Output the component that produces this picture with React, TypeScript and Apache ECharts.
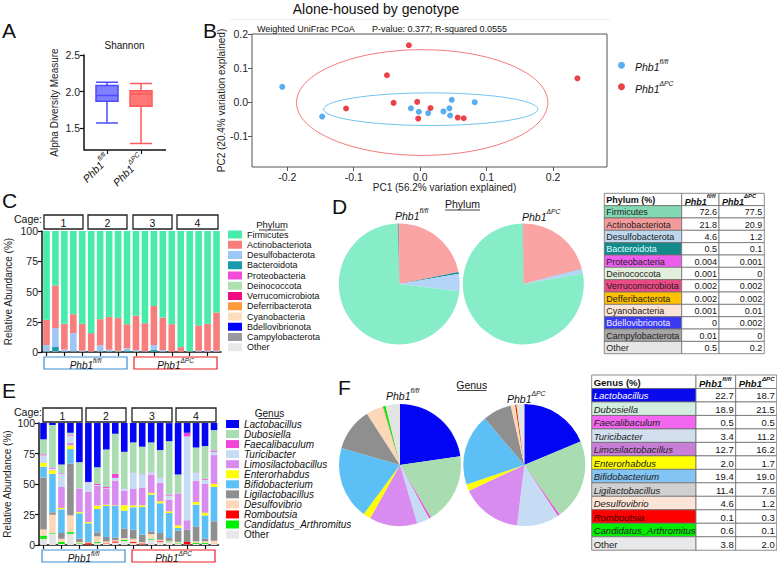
import React, { useEffect, useRef } from "react";
import * as echarts from "echarts";

const FONT = "'Liberation Sans', Arial, Helvetica, sans-serif";

// ---------- shared ----------
const genotypes = ["Phb1 fl/fl", "Phb1 ΔPC"];
const samples = ["1","2","3","4","5","6","7","8","9","10","11","12","13","14","15","16","17","18","19","20"];
const cages = ["1", "2", "3", "4"];

// ---------- A: Shannon boxplot [min, Q1, median, Q3, max] ----------
const shannonFlfl = [1.571, 1.867, 1.945, 2.082, 2.127];
const shannonDpc = [1.288, 1.8, 1.968, 2.01, 2.11];
const shannonTicks = [1.5, 2.0, 2.5];

// ---------- B: PCoA ----------
const pcoaFlfl = [[-0.2075,0.045],[-0.1475,-0.042],[-0.014,-0.018],[-0.002,-0.028],[0.012,-0.032],[0.035,-0.027],[0.044,-0.018],[0.0475,0.007],[0.045,-0.039],[0.082,0.0]];
const pcoaDpc = [[-0.017,0.167],[-0.05,0.079],[0.2365,0.07],[-0.1115,-0.0185],[-0.04,-0.002],[-0.0045,0.001],[0.0155,-0.017],[-0.003,-0.048],[0.0565,-0.045],[0.0655,-0.047]];
// [cx, cy, rx, ry]
const ellipseFlfl = [0.0158, -0.0205, 0.161, 0.0478];
const ellipseDpc = [0.003, -0.001, 0.189, 0.155];
const pcoaXTicks = [-0.2, -0.1, 0, 0.1, 0.2];
const pcoaYTicks = [-0.1, 0, 0.1, 0.2];

// ---------- C: phylum per sample ----------
const phyla = ["Firmicutes","Actinobacteriota","Desulfobacterota","Bacteroidota","Proteobacteria","Deinococcota","Verrucomicrobiota","Deferribacterota","Cyanobacteria","Bdellovibrionota","Campylobacterota","Other"];
const cFirmicutes = [73.4,45,76.7,68.8,76.7,84.4,72.9,71,72,77,70,76.2,62,71.5,77,96,99.5,78,76.7,67.4];
const cActino = [20.8,35.3,21.3,15.6,22.3,15.1,21.6,27,27,20,28.5,23.3,32.2,27,22.7,3.8,0.4,21,22.3,31.6];
const cDesulfo = [5.0,15.6,1.5,14.8,0.6,0.2,4.9,1.5,0.5,1.7,1.1,0.2,4.0,1.1,0.0,0.1,0.0,0.7,0.7,0.6];
const cBactero = [0.3,3.6,0.2,0.4,0.1,0.1,0.3,0.2,0.2,1.0,0.2,0.1,1.5,0.2,0.1,0,0,0.1,0.1,0.1];
const cProteo = [0,0,0,0,0,0,0,0,0,0,0,0,0,0,0,0,0,0,0,0];
const cDeino = [0,0,0,0,0,0,0,0,0,0,0,0,0,0,0,0,0,0,0,0];
const cVerruco = [0,0,0,0,0,0,0,0,0,0,0,0,0,0,0,0,0,0,0,0];
const cDeferri = [0,0,0,0,0,0,0,0,0,0,0,0,0,0,0,0,0,0,0,0];
const cCyano = [0,0,0,0,0,0,0,0,0,0,0,0,0,0,0,0,0,0,0,0];
const cBdello = [0,0,0,0,0,0,0,0,0,0,0,0,0,0,0,0,0,0,0,0];
const cCampylo = [0,0,0,0,0,0,0,0,0,0,0,0,0,0,0,0,0,0,0,0];
const cOther = [0.5,0.5,0.3,0.4,0.3,0.2,0.3,0.3,0.3,0.3,0.2,0.2,0.3,0.2,0.2,0.1,0.1,0.2,0.2,0.3];
const phylumBars = [cFirmicutes,cActino,cDesulfo,cBactero,cProteo,cDeino,cVerruco,cDeferri,cCyano,cBdello,cCampylo,cOther];
const phylumBarColors = ["#47ECAA","#F87D7D","#9FC7F5","#1A9BAC","#F24CDA","#AEE0B0","#F20A82","#FF9A3C","#FDDDC0","#0000FF","#9A9A9E","#E8E8E8"];

// ---------- D: phylum means ----------
const phylumTableNames = ["Firmicutes","Actinobacteriota","Desulfobacterota","Bacteroidota","Proteobacteria","Deinococcota","Verrucomicrobiota","Defferibacterota","Cyanobacteria","Bdellovibrionota","Campylobacterota","Other"];
const phylumFlfl = [72.6, 21.8, 4.6, 0.5, 0.004, 0.001, 0.002, 0.002, 0.001, 0, 0.01, 0.5];
const phylumDpc = [77.5, 20.9, 1.2, 0.1, 0.001, 0, 0.002, 0.002, 0.01, 0.002, 0, 0.2];
const phylumPieOrder = [1, 3, 2, 0, 4, 5, 6, 7, 8, 9, 10, 11];
const phylumPieColors = ["#86EDC8","#F9A3A3","#B5D3F6","#138C94","#F583E8","#C5E8C5","#F5559F","#FFB366","#FDE6CF","#5555FF","#A0A0A0","#9C9C9C"];
const phylumCellColors = ["#82D8B2","#F59A9A","#BDD7EE","#138A8A","#EE5EEE","#E2EFDA","#EE4A85","#FFC000","#FCE4D6","#3A3AF5","#A6A6A6","#E7E6E6"];
const phylumCellText = ["#222","#222","#222","#DFFFFF","#222","#222","#222","#222","#222","#F0F0FF","#222","#222"];

// ---------- E: genus per sample ----------
const genera = ["Lactobacillus","Dubosiella","Faecalibaculum","Turicibacter","Limosilactobacillus","Enterorhabdus","Bifidobacterium","Ligilactobacillus","Desulfovibrio","Romboutsia","Candidatus_Arthromitus","Other"];
const eLacto = [13.4,1.6,34,8,32.6,48.5,36.7,22.2,8.8,23.8,16.2,19.7,16.2,22.5,14.8,42.7,8,20.3,18.9,5.8];
const eDubo = [12.3,35,6.8,1.4,21.4,0,13.7,30.8,32.9,30.1,24.7,22.3,24.1,22.5,43.8,15.3,0,20.5,26.8,16.7];
const eFaecal = [0.8,0.8,0.5,0.8,0.2,0.2,0.8,1,3.3,0.3,0.3,0.3,0.3,0.3,0.8,0.2,3,0.3,0.8,1.1];
const eTurici = [6.3,1,11,6,0.3,8,0.5,0.5,2.2,1.4,13.2,11,1.9,4.1,3.3,0.3,68.7,6.3,3.3,2.7];
const eLimo = [0,0.3,17.3,2.2,19,24.7,16.4,13,20.3,12,13.4,14.5,15.1,15.1,9.6,26,7.7,17.5,23.8,23.6];
const eEntero = [3,3,1,3,1,1,2.7,1,0.5,4.4,1.6,1.4,1.4,1.6,1.4,1.9,0,2.2,2.2,2.5];
const eBifido = [9,31.5,19.5,11.8,20.8,14.8,19.2,25.5,25.8,14.8,18.4,22.5,30.1,24.4,20.5,2.2,0,17.8,18.9,28.2];
const eLigi = [42.5,2,4.7,42.5,2.7,1,3.3,3.6,2.2,7.7,7.4,6.3,2.2,5.5,2.2,9.3,10.1,12.3,2.2,15.9];
const eDesulfo = [5,15,2.7,13.7,1,0.5,4.7,1.6,1,1.4,2.7,1,3.8,1.2,0.5,0.8,0,1.4,1.4,2.7];
const eRombo = [0,0,0,0,0,1.2,0,0.5,1,0,0.8,0.8,0,0.7,0,0,2,0,0,0];
const eCandid = [2.7,0.5,1.6,1.4,0.5,0,0.8,0,0,1,0,0,0.8,0,0.5,0.5,0,0.8,0.8,0];
const eOther = [5,9.3,0.8,9.2,1,0.3,1.6,0.8,2,3.3,1.6,0.5,4.4,2.4,2.5,1.3,0.5,0.8,0.9,0.8];
const genusBars = [eLacto,eDubo,eFaecal,eTurici,eLimo,eEntero,eBifido,eLigi,eDesulfo,eRombo,eCandid,eOther];
const genusColors = ["#0505F5","#A9DDB1","#F245D8","#C6DCF5","#D98CF0","#FFFF00","#5CC0F7","#8F8F8F","#FDD8B8","#FF0000","#00EE00","#E3E3E3"];

// ---------- F: genus means ----------
const genusFlfl = [22.7, 18.9, 0.5, 3.4, 12.7, 2.0, 19.4, 11.4, 4.6, 0.1, 0.6, 3.8];
const genusDpc = [18.7, 21.5, 0.5, 11.2, 16.2, 1.7, 19.0, 7.6, 1.2, 0.3, 0.1, 2.0];
const genusCellColors = ["#0A0AF0","#D2EEDF","#F266F0","#D3DEEE","#C97FD8","#FFFF00","#83C4F2","#D0D0D0","#FCE4D6","#FF0000","#00F000","#E8E8E8"];
const genusCellText = ["#FFFFFF","#222","#222","#222","#222","#222","#222","#222","#222","#330000","#222","#222"];

// ---------- helpers ----------
const supRich = (fs: number, color = "#111", bold = false) => ({
  i: { fontFamily: FONT, fontStyle: "italic", fontWeight: bold ? "bold" : "normal", fontSize: fs, lineHeight: fs + 4, verticalAlign: "bottom", color, fill: color },
  s: { fontFamily: FONT, fontStyle: "italic", fontWeight: bold ? "bold" : "normal", fontSize: Math.round(fs * 6.5) / 10, lineHeight: fs * 0.8, verticalAlign: "top", color, fill: color },
});
const genoRich = (g: string) => {
  const [a, b] = g.split(" ");
  return `{i|${a}}{s|${b}}`;
};

const txt = (x: number, y: number, text: string, o: any = {}) => {
  const align = o.align || "left";
  const va = o.verticalAlign || "middle";
  return {
    type: "text",
    x,
    y,
    silent: true,
    z: 10,
    rotation: o.rotation || 0,
    style: {
      text,
      fill: o.fill || "#111",
      fontFamily: FONT,
      fontSize: o.fontSize || 10,
      fontStyle: o.fontStyle || "normal",
      fontWeight: o.fontWeight || "normal",
      align,
      textAlign: align,
      verticalAlign: va,
      textVerticalAlign: va,
      rich: o.rich,
    },
  };
};
const rect = (x: number, y: number, w: number, h: number, fill: string, stroke: string, lw = 1) => ({
  type: "rect",
  silent: true,
  z: 5,
  shape: { x, y, width: w, height: h },
  style: { fill, stroke, lineWidth: lw },
});
const line = (x1: number, y1: number, x2: number, y2: number, stroke = "#111", lw = 1) => ({
  type: "line",
  silent: true,
  z: 10,
  shape: { x1, y1, x2, y2 },
  style: { stroke, lineWidth: lw },
});

function buildTable(x0: number, y0: number, widths: number[], rh: number, fs: number, title: string,
  names: string[], fills: string[], textColors: string[], a: number[], b: number[], fmt: (v: number) => string, italicNames: boolean) {
  const els: any[] = [];
  const xs = [x0, x0 + widths[0], x0 + widths[0] + widths[1]];
  els.push(rect(xs[0], y0, widths[0], rh, "#fff", "#6f6f6f", 0.8));
  els.push(rect(xs[1], y0, widths[1], rh, "#fff", "#6f6f6f", 0.8));
  els.push(rect(xs[2], y0, widths[2], rh, "#fff", "#6f6f6f", 0.8));
  els.push(txt(xs[0] + 2, y0 + rh / 2 + 0.5, title, { fontSize: fs, fontWeight: "bold" }));
  els.push(txt(xs[1] + 3, y0 + rh / 2 + 0.5, genoRich(genotypes[0]), { rich: supRich(fs, "#111", true) }));
  els.push(txt(xs[2] + 3, y0 + rh / 2 + 0.5, genoRich(genotypes[1]), { rich: supRich(fs, "#111", true) }));
  names.forEach((n, i) => {
    const y = y0 + rh * (i + 1);
    els.push(rect(xs[0], y, widths[0], rh, fills[i], "#6f6f6f", 0.8));
    els.push(rect(xs[1], y, widths[1], rh, "#fff", "#6f6f6f", 0.8));
    els.push(rect(xs[2], y, widths[2], rh, "#fff", "#6f6f6f", 0.8));
    els.push(txt(xs[0] + 2, y + rh / 2 + 0.5, n, { fontSize: fs, fill: textColors[i], fontStyle: italicNames && n !== "Other" ? "italic" : "normal" }));
    els.push(txt(xs[1] + widths[1] - 2, y + rh / 2 + 0.5, fmt(a[i]), { fontSize: fs, align: "right" }));
    els.push(txt(xs[2] + widths[2] - 2, y + rh / 2 + 0.5, fmt(b[i]), { fontSize: fs, align: "right" }));
  });
  return els;
}

function cageHeader(y: number, labelY: number, boxes: number[][]) {
  const els: any[] = [txt(42, labelY, "Cage:", { fontSize: 10.5, align: "right" })];
  boxes.forEach((bx, i) => {
    els.push(rect(bx[0], y, bx[1] - bx[0], 14, "#fff", "#222", 1.3));
    els.push(txt((bx[0] + bx[1]) / 2, y + 7.5, cages[i], { fontSize: 10.5, align: "center" }));
  });
  return els;
}

function genoBoxes(y: number, boxes: number[][]) {
  const cols = ["#3D8ED8", "#E82020"];
  const els: any[] = [];
  boxes.forEach((bx, i) => {
    els.push(rect(bx[0], y, bx[1] - bx[0], 12, "#fff", cols[i], 1.2));
    els.push(txt((bx[0] + bx[1]) / 2, y + 6.5, genoRich(genotypes[i]), { align: "center", rich: supRich(10) }));
  });
  return els;
}

const axisText = { fontFamily: FONT, color: "#222" };

function buildOption() {
  const graphics: any[] = [
    txt(376, 9, "Alone-housed by genotype", { fontSize: 14, align: "center" }),
    line(230, 19.5, 610, 19.5, "#EDEDED", 1),
    txt(2, 30, "A", { fontSize: 21 }),
    txt(203, 30, "B", { fontSize: 21 }),
    txt(2, 200, "C", { fontSize: 21 }),
    txt(332, 206.5, "D", { fontSize: 21 }),
    txt(2, 390, "E", { fontSize: 21 }),
    txt(338, 387.5, "F", { fontSize: 21 }),
    txt(124.5, 45, "Shannon", { fontSize: 10, align: "center" }),
    line(84, 150, 166, 150, "#111", 1.5),
    txt(257, 29, "Weighted UniFrac PCoA", { fontSize: 9 }),
    txt(372, 29, "P-value: 0.377; R-squared 0.0555", { fontSize: 9 }),
    // legend titles
    txt(272, 224.5, "Phylum", { fontSize: 9.5, align: "center" }),
    line(259, 230, 285.5, 230, "#111", 0.8),
    txt(269.5, 413, "Genus", { fontSize: 10, align: "center" }),
    line(258.5, 418.5, 280.5, 418.5, "#111", 0.8),
    // D / F titles
    txt(462.5, 204, "Phylum", { fontSize: 10.5, align: "center" }),
    line(445, 210, 480, 210, "#111", 0.8),
    txt(471.7, 385, "Genus", { fontSize: 10.5, align: "center" }),
    line(457, 390.5, 486.5, 390.5, "#111", 0.8),
    txt(395, 214, genoRich(genotypes[0]), { rich: supRich(10.5) }),
    txt(522, 215, genoRich(genotypes[1]), { rich: supRich(10.5) }),
    txt(386, 394, genoRich(genotypes[0]), { rich: supRich(10.5) }),
    txt(507, 397, genoRich(genotypes[1]), { rich: supRich(10.5) }),
    ...cageHeader(215, 218.5, [[44, 83], [88, 127], [133, 172], [177, 218]]),
    ...cageHeader(408, 411.5, [[43, 82], [86, 126], [132, 172], [176, 216]]),
    ...genoBoxes(357, [[44, 127], [134, 217]]),
    ...genoBoxes(550, [[42, 125], [132, 215]]),
    ...buildTable(604.3, 193.3, [77.4, 37.3, 45.3], 12.34, 9, "Phylum (%)", phylumTableNames, phylumCellColors, phylumCellText, phylumFlfl, phylumDpc, (v) => String(v), false),
    ...buildTable(591.7, 375, [104.3, 39.7, 41], 13.48, 9.5, "Genus (%)", genera, genusCellColors, genusCellText, genusFlfl, genusDpc, (v) => v.toFixed(1), true),
  ];

  const barX = (gi: number) => ({
    type: "category",
    gridIndex: gi,
    data: samples,
    axisLine: { show: true, onZero: false, lineStyle: { color: "#111", width: 1.5 } },
    axisTick: { show: true, alignWithLabel: true, length: 4, lineStyle: { color: "#111", width: 1.2 } },
    axisLabel: { show: false },
  });
  const barY = (gi: number, gap: number) => ({
    type: "value",
    gridIndex: gi,
    min: 0,
    max: 100,
    interval: 25,
    axisLine: { show: true, onZero: false, lineStyle: { color: "#111", width: 1.5 } },
    axisTick: { show: true, length: 4, lineStyle: { color: "#111", width: 1.2 } },
    axisLabel: { fontSize: 10.5, margin: 4, ...axisText },
    splitLine: { show: false },
    name: "Relative Abundance (%)",
    nameLocation: "middle",
    nameGap: gap,
    nameTextStyle: { fontSize: 10, ...axisText },
  });

  const series: any[] = [
    {
      type: "boxplot",
      name: "Shannon",
      xAxisIndex: 0,
      yAxisIndex: 0,
      boxWidth: [22, 22],
      silent: true,
      data: [
        { value: shannonFlfl, itemStyle: { color: "rgba(95,95,255,0.8)", borderColor: "#4B4BFF", borderWidth: 1.5 } },
        { value: shannonDpc, itemStyle: { color: "rgba(255,95,95,0.85)", borderColor: "#FF5A5A", borderWidth: 1.5 } },
      ],
    },
    {
      type: "custom",
      name: "ellipse-dpc",
      xAxisIndex: 1,
      yAxisIndex: 1,
      silent: true,
      clip: true,
      data: [ellipseDpc],
      renderItem: (p: any, api: any) => {
        const c = api.coord([api.value(0), api.value(1)]);
        const s = api.size([api.value(2), api.value(3)]);
        return { type: "ellipse", shape: { cx: c[0], cy: c[1], rx: s[0], ry: s[1] }, style: { fill: "none", stroke: "#F27A7A", lineWidth: 1 } };
      },
    },
    {
      type: "custom",
      name: "ellipse-flfl",
      xAxisIndex: 1,
      yAxisIndex: 1,
      silent: true,
      clip: true,
      data: [ellipseFlfl],
      renderItem: (p: any, api: any) => {
        const c = api.coord([api.value(0), api.value(1)]);
        const s = api.size([api.value(2), api.value(3)]);
        return { type: "ellipse", shape: { cx: c[0], cy: c[1], rx: s[0], ry: s[1] }, style: { fill: "none", stroke: "#6EC3F2", lineWidth: 1 } };
      },
    },
    { type: "scatter", name: genotypes[0], xAxisIndex: 1, yAxisIndex: 1, symbolSize: 6, itemStyle: { color: "#2F98EE" }, data: pcoaFlfl, silent: true },
    { type: "scatter", name: genotypes[1], xAxisIndex: 1, yAxisIndex: 1, symbolSize: 6, itemStyle: { color: "#E5131C" }, data: pcoaDpc, silent: true },
  ];

  for (let i = phyla.length - 1; i >= 0; i--) {
    series.push({
      type: "bar",
      name: phyla[i],
      xAxisIndex: 2,
      yAxisIndex: 2,
      stack: "phylum",
      barWidth: 6.6,
      silent: true,
      itemStyle: { color: phylumBarColors[i] },
      data: phylumBars[i],
    });
  }
  for (let i = genera.length - 1; i >= 0; i--) {
    series.push({
      type: "bar",
      name: genera[i],
      xAxisIndex: 3,
      yAxisIndex: 3,
      stack: "genus",
      barWidth: 6.6,
      silent: true,
      itemStyle: { color: genusColors[i] },
      data: genusBars[i],
    });
  }

  const pie = (center: number[], r: number, data: any[]) => ({
    type: "pie",
    center,
    radius: r,
    startAngle: 90,
    clockwise: true,
    silent: true,
    label: { show: false },
    labelLine: { show: false },
    emphasis: { disabled: true },
    itemStyle: { borderWidth: 0 },
    data,
  });
  series.push(pie([399.3, 284], 60.5, phylumPieOrder.map((i) => ({ name: phyla[i], value: phylumFlfl[i], itemStyle: { color: phylumPieColors[i] } }))));
  series.push(pie([523.3, 284], 60.5, phylumPieOrder.map((i) => ({ name: phyla[i], value: phylumDpc[i], itemStyle: { color: phylumPieColors[i] } }))));
  series.push(pie([400, 465], 61, genera.map((g, i) => ({ name: g, value: genusFlfl[i], itemStyle: { color: genusColors[i] } }))));
  series.push(pie([524.3, 465], 61, genera.map((g, i) => ({ name: g, value: genusDpc[i], itemStyle: { color: genusColors[i] } }))));

  return {
    animation: false,
    backgroundColor: "#fff",
    textStyle: { fontFamily: FONT },
    grid: [
      { left: 90, top: 55, width: 68, height: 95 },
      { left: 252, top: 34, width: 355, height: 133, show: true, borderColor: "#555", borderWidth: 1, backgroundColor: "transparent" },
      { left: 42, top: 231, width: 179, height: 121 },
      { left: 39, top: 423, width: 179.5, height: 122 },
    ],
    xAxis: [
      {
        type: "category",
        gridIndex: 0,
        data: genotypes,
        axisLine: { show: false, onZero: false },
        axisTick: { show: true, alignWithLabel: true, length: 4, lineStyle: { color: "#111", width: 1.2 } },
        axisLabel: { rotate: 45, margin: 6, formatter: (v: string) => genoRich(v), rich: supRich(10.5) },
      },
      {
        type: "value",
        gridIndex: 1,
        min: -0.253,
        max: 0.281,
        axisLine: { show: false, onZero: false },
        splitLine: { show: false },
        axisTick: { show: true, customValues: pcoaXTicks, length: 4, lineStyle: { color: "#555" } },
        axisLabel: { customValues: pcoaXTicks, formatter: (v: number) => v.toFixed(1), fontSize: 10.5, margin: 4, ...axisText },
        name: "PC1 (56.2% variation explained)",
        nameLocation: "middle",
        nameGap: 13,
        nameTextStyle: { fontSize: 10, padding: [0, 0, 0, 30], ...axisText },
      },
      barX(2),
      barX(3),
    ],
    yAxis: [
      {
        type: "value",
        gridIndex: 0,
        min: 1.2,
        max: 2.5,
        offset: 6,
        axisLine: { show: true, onZero: false, lineStyle: { color: "#111", width: 1.5 } },
        axisTick: { show: true, customValues: shannonTicks, length: 4, lineStyle: { color: "#111", width: 1.2 } },
        axisLabel: { customValues: shannonTicks, formatter: (v: number) => v.toFixed(1), fontSize: 10.5, margin: 4, ...axisText },
        splitLine: { show: false },
        name: "Alpha Diversity Measure",
        nameLocation: "middle",
        nameGap: 25,
        nameTextStyle: { fontSize: 10, ...axisText },
      },
      {
        type: "value",
        gridIndex: 1,
        min: -0.19,
        max: 0.2,
        axisLine: { show: false, onZero: false },
        splitLine: { show: false },
        axisTick: { show: true, customValues: pcoaYTicks, length: 4, lineStyle: { color: "#555" } },
        axisLabel: { customValues: pcoaYTicks, formatter: (v: number) => v.toFixed(1), fontSize: 10.5, margin: 4, ...axisText },
        name: "PC2 (20.4% variation explained)",
        nameLocation: "middle",
        nameGap: 20.5,
        nameTextStyle: { fontSize: 10, ...axisText },
      },
      barY(2, 29),
      barY(3, 27),
    ],
    legend: [
      {
        data: genotypes,
        left: 618,
        top: 58,
        orient: "vertical",
        padding: 0,
        icon: "circle",
        itemWidth: 7,
        itemHeight: 7,
        itemGap: 7,
        selectedMode: false,
        formatter: (n: string) => genoRich(n),
        textStyle: { padding: [0, 0, 0, 5], rich: supRich(10.5) },
      },
      {
        data: phyla,
        left: 228,
        top: 229.5,
        orient: "vertical",
        padding: 0,
        icon: "rect",
        itemWidth: 14,
        itemHeight: 8,
        itemGap: 0.25,
        selectedMode: false,
        textStyle: { fontSize: 9, lineHeight: 10, color: "#111", fontFamily: FONT },
      },
      {
        data: genera,
        left: 226,
        top: 419,
        orient: "vertical",
        padding: 0,
        icon: "rect",
        itemWidth: 13,
        itemHeight: 8,
        itemGap: 0.05,
        selectedMode: false,
        formatter: (n: string) => (n === "Other" ? `{n|${n}}` : `{i|${n}}`),
        textStyle: {
          rich: {
            i: { fontFamily: FONT, fontStyle: "italic", fontSize: 10, lineHeight: 11, color: "#111" },
            n: { fontFamily: FONT, fontSize: 10, lineHeight: 11, color: "#111" },
          },
        },
      },
    ],
    graphic: graphics,
    series,
  };
}

export default function App() {
  const ref = useRef<HTMLDivElement>(null);
  useEffect(() => {
    if (!ref.current) return;
    const chart = echarts.init(ref.current, null, { renderer: "svg" });
    chart.setOption(buildOption() as any);
    return () => chart.dispose();
  }, []);
  return <div ref={ref} style={{ position: "absolute", left: 0, top: 0, width: 777, height: 563, background: "#fff" }} />;
}
